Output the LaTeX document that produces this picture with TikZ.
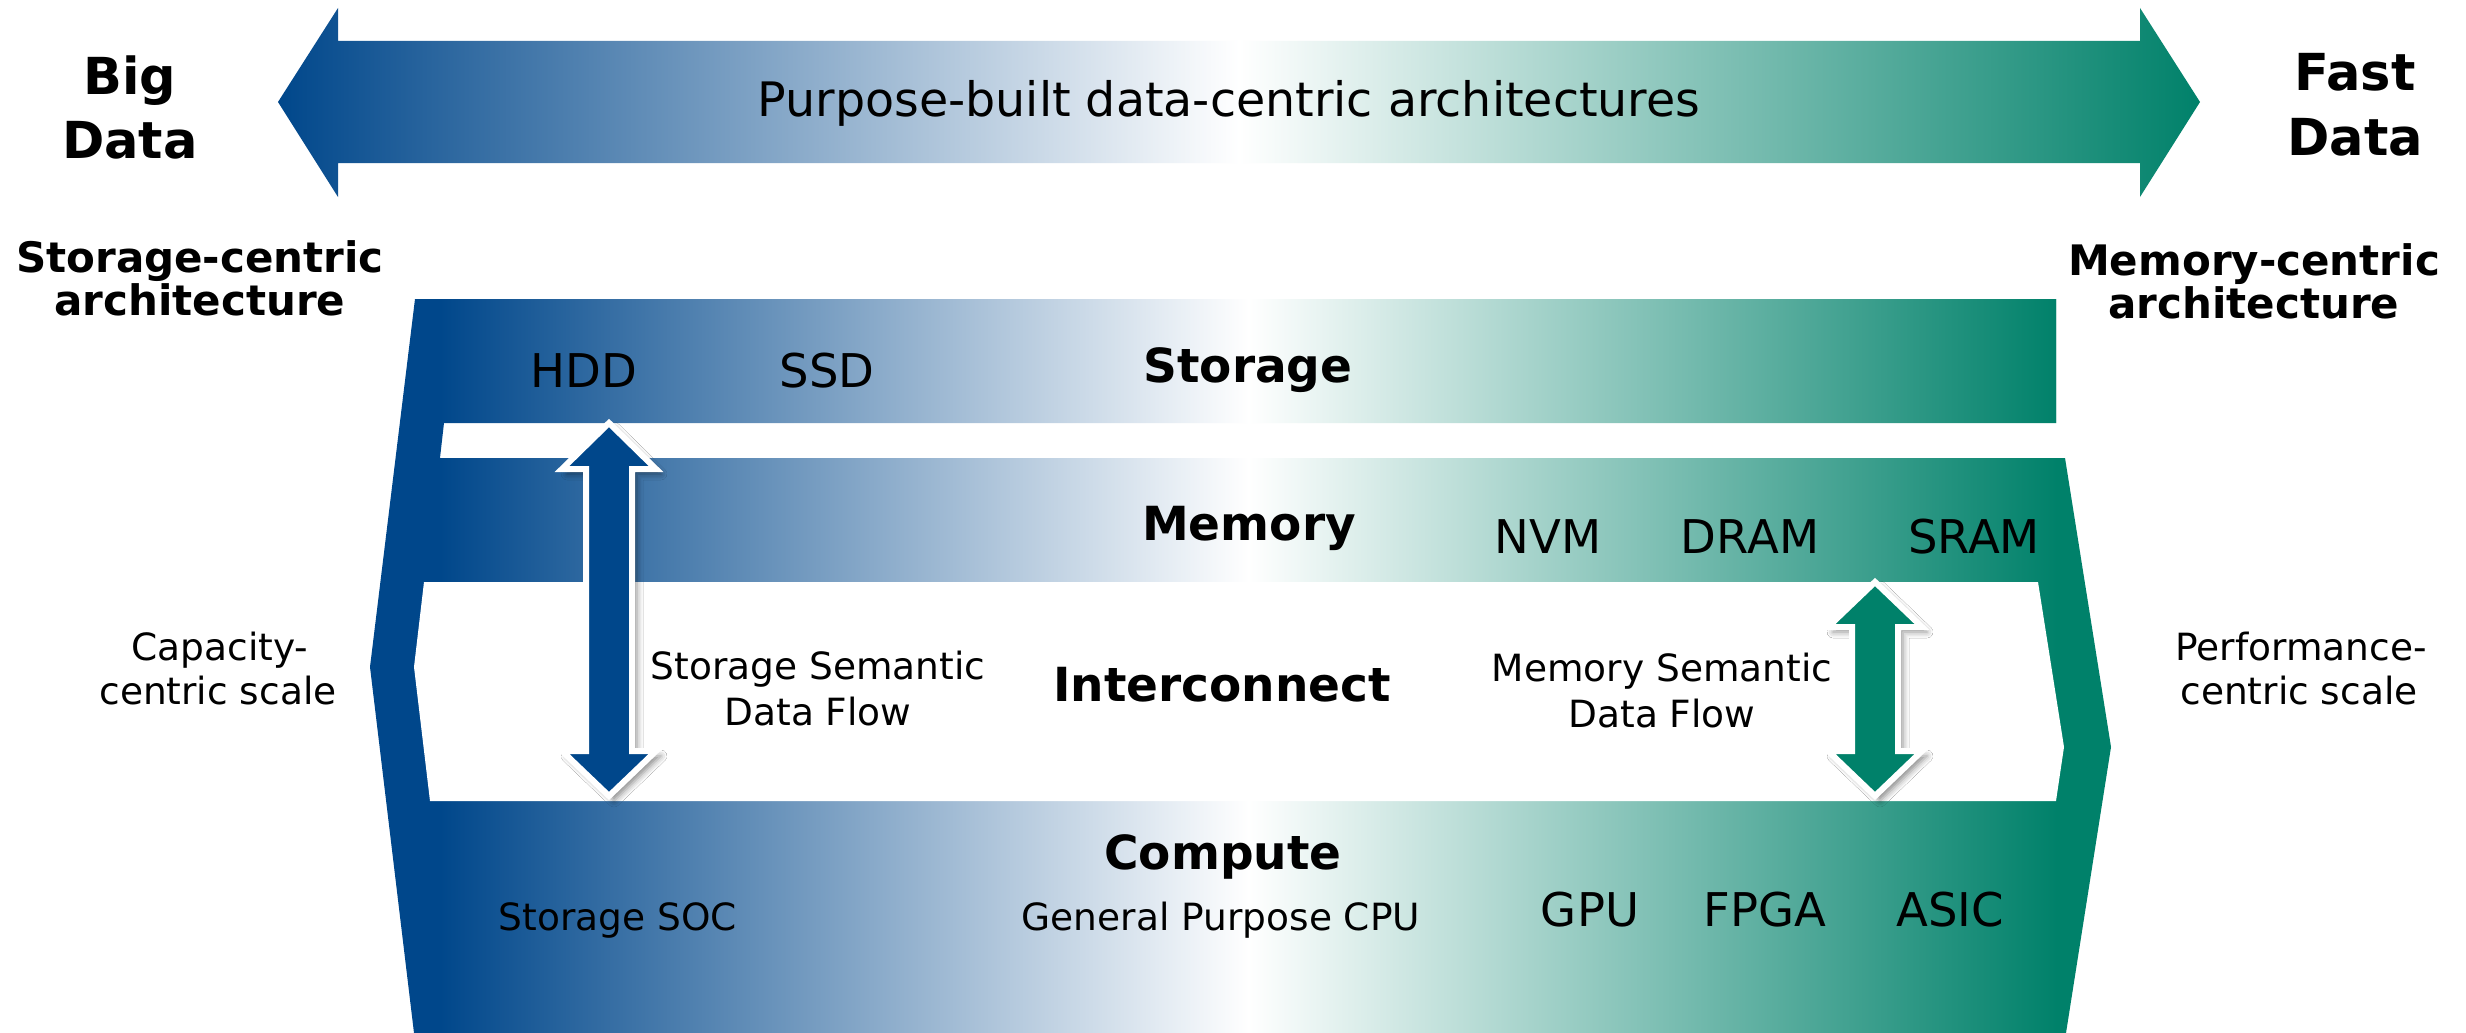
\documentclass[tikz,border=0pt]{standalone}
\usepackage{fontspec}
\setmainfont{DejaVu Sans}
\usetikzlibrary{shadows.blur}
\definecolor{dblue}{RGB}{0,71,139}
\definecolor{dgreen}{RGB}{0,129,106}
\tikzset{
  lbl/.style={inner sep=0pt, anchor=base, text=black},
  bigbold/.style={lbl, font=\fontsize{51}{60}\selectfont\bfseries},
  headbold/.style={lbl, font=\fontsize{42}{50}\selectfont\bfseries},
  layer/.style={lbl, font=\fontsize{47}{56}\selectfont\bfseries},
  item/.style={lbl, font=\fontsize{46.5}{56}\selectfont},
  small/.style={lbl, font=\fontsize{37.5}{44}\selectfont},
  title/.style={lbl, font=\fontsize{47.5}{56}\selectfont},
  dblarrow/.style={draw=white, line width=6pt, line join=miter,
    blur shadow={shadow xshift=5pt, shadow yshift=-5pt, shadow blur radius=6pt, shadow opacity=45}},
}
\begin{document}
\begin{tikzpicture}[x=1pt, y=-1pt]
\useasboundingbox (0,0) rectangle (2466,1033);
\fill[white] (0,0) rectangle (2466,1033);

% top gradient arrow
\shade[left color=dblue, right color=dgreen, middle color=white]
  (278,102) -- (338,8) -- (338,41) -- (2140,41) -- (2140,8) -- (2200,102)
  -- (2140,197) -- (2140,163) -- (338,163) -- (338,197) -- cycle;

% layered body with gradient
\begin{scope}
  \clip (415,299) -- (2056,299) -- (2056,423) -- (444,423) -- (440,458)
    -- (2065,458) -- (2111,747) -- (2066,1033) -- (414,1033) -- (370,667) -- cycle;
  \fill[dblue] (300,280) rectangle (441,1040);
  \shade[left color=dblue, right color=white] (440,280) rectangle (1249,1040);
  \shade[left color=white, right color=dgreen] (1248,280) rectangle (2057,1040);
  \fill[dgreen] (2056,280) rectangle (2130,1040);
\end{scope}
% interconnect opening
\fill[white] (424,582) -- (2038,582) -- (2064,747) -- (2056,801) -- (430,801) -- (414,667) -- cycle;

% double arrows
\draw[dblarrow, fill=dblue] (609,423) -- (656,469) -- (632,469) -- (632,751) -- (656,751)
  -- (609,796) -- (562,751) -- (586,751) -- (586,469) -- (562,469) -- cycle;
\draw[dblarrow, fill=dgreen] (1875,582) -- (1922,627) -- (1898,627) -- (1898,751) -- (1922,751)
  -- (1875,796) -- (1828,751) -- (1852,751) -- (1852,627) -- (1828,627) -- cycle;

% texts
\node[bigbold] (big) at (130,95) {Big};
\node[bigbold] (bigdata) at (130,158) {Data};
\node[bigbold] (fast) at (2355,90) {Fast};
\node[bigbold] (fastdata) at (2355,155) {Data};
\node[headbold] (sc1) at (200,272) {Storage-centric};
\node[headbold] (sc2) at (200,315) {architecture};
\node[headbold] (mc1) at (2254,275) {Memory-centric};
\node[headbold] (mc2) at (2254,318) {architecture};
\node[title] (purp) at (1229,116) {Purpose-built data-centric architectures};

\node[item] (hdd) at (584,387) {HDD};
\node[item] (ssd) at (827,387) {SSD};
\node[layer] (stor) at (1248,382) {Storage};

\node[layer] (mem) at (1249,540) {Memory};
\node[item] (nvm) at (1548,553) {NVM};
\node[item] (dram) at (1750,553) {DRAM};
\node[item] (sram) at (1974,553) {SRAM};

\node[layer] (ic) at (1222,701) {Interconnect};
\node[small] (ssf1) at (818,679) {Storage Semantic};
\node[small] (ssf2) at (818,725) {Data Flow};
\node[small] (msf1) at (1662,681) {Memory Semantic};
\node[small] (msf2) at (1662,727) {Data Flow};
\node[small] (cap1) at (220,660) {Capacity-};
\node[small] (cap2) at (218,704) {centric scale};
\node[small] (perf1) at (2301,660) {Performance-};
\node[small] (perf2) at (2299,704) {centric scale};

\node[layer] (comp) at (1223,869) {Compute};
\node[small] (cpu) at (1221,930) {General Purpose CPU};
\node[small] (soc) at (618,930) {Storage SOC};
\node[item] (gpu) at (1590,926) {GPU};
\node[item] (fpga) at (1765,926) {FPGA};
\node[item] (asic) at (1950,926) {ASIC};
\end{tikzpicture}
\end{document}
